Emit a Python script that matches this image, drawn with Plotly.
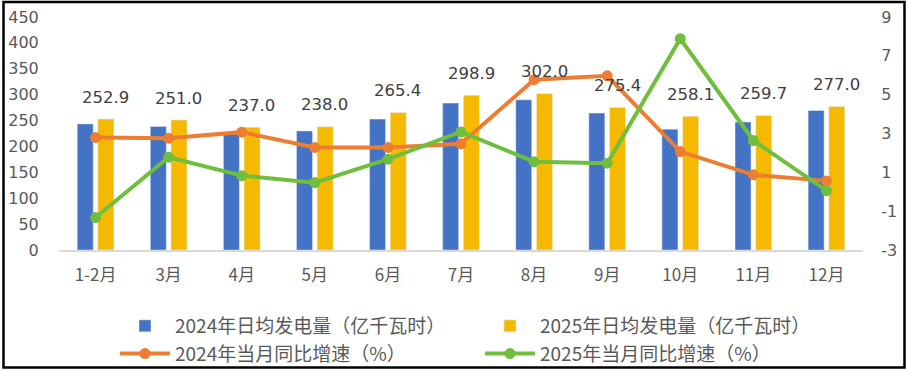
import plotly.graph_objects as go

months = ["1-2月", "3月", "4月", "5月", "6月", "7月", "8月", "9月", "10月", "11月", "12月"]
gen_2024 = [243.5, 238.5, 226.0, 230.0, 252.8, 283.7, 290.0, 264.4, 233.4, 247.0, 269.5]
gen_2025 = [252.9, 251.0, 237.0, 238.0, 265.4, 298.9, 302.0, 275.4, 258.1, 259.7, 277.0]
growth_2024 = [2.8, 2.76, 3.07, 2.28, 2.28, 2.47, 5.77, 5.97, 2.07, 0.87, 0.56]
growth_2025 = [-1.33, 1.78, 0.83, 0.47, 1.68, 3.08, 1.55, 1.47, 7.88, 2.64, 0.06]
left_ticks = list(range(0, 451, 50))
right_ticks = [-3, -1, 1, 3, 5, 7, 9]
right_tick_labels = ["-3", "-1", "1", "3", "5", "7", "9"]

names = ["2024年日均发电量（亿千瓦时）", "2025年日均发电量（亿千瓦时）",
         "2024年当月同比增速（%）", "2025年当月同比增速（%）"]

BLUE = "#4472C4"
YELLOW = "#F5BA00"
ORANGE = "#ED7D31"
GREEN = "#6FBE3E"

W, H = 908, 370
ML, MR, MT, MB = 59, 45, 17, 120
PW, PH = W - ML - MR, H - MT - MB

fig = go.Figure()
fig.add_trace(go.Bar(x=months, y=gen_2024, name=names[0], marker_color=BLUE, yaxis="y"))
fig.add_trace(go.Bar(x=months, y=gen_2025, name=names[1], marker_color=YELLOW, yaxis="y"))
fig.add_trace(go.Scatter(x=months, y=growth_2024, name=names[2], yaxis="y2", mode="lines+markers",
                         line=dict(color=ORANGE, width=4), marker=dict(size=11, color=ORANGE)))
fig.add_trace(go.Scatter(x=months, y=growth_2025, name=names[3], yaxis="y2", mode="lines+markers",
                         line=dict(color=GREEN, width=4), marker=dict(size=11, color=GREEN)))

num_font = dict(family="DejaVu Sans", size=16, color="#595959")
cjk = "Noto Sans CJK SC"

annotations = []
for m, v in zip(months, gen_2025):
    annotations.append(dict(x=m, y=v, xref="x", yref="y", text=f"{v:.1f}", showarrow=False,
                            xshift=10, yshift=22, font=dict(family="DejaVu Sans", size=16.5, color="#404040")))

def px_to_paper_x(px):
    return (px - ML) / PW

def px_to_paper_y(py):
    return (H - MB - py) / PH

fig.update_layout(
    width=W, height=H,
    margin=dict(l=ML, r=MR, t=MT, b=MB, pad=0, autoexpand=False),
    paper_bgcolor="white", plot_bgcolor="white",
    barmode="group", bargap=0.434, bargroupgap=0.227,
    showlegend=True,
    legend=dict(orientation="h", x=px_to_paper_x(115), xanchor="left",
                y=px_to_paper_y(307), yanchor="top",
                font=dict(family=cjk, size=19, color="#595959"),
                itemwidth=50, entrywidth=300, traceorder="normal",
                bgcolor="rgba(0,0,0,0)"),
    xaxis=dict(range=[-0.5, len(months) - 0.5], showgrid=False, showline=True,
               linecolor="#D9D9D9", linewidth=1.5,
               tickfont=dict(family=cjk, size=17, color="#595959"),
               ticks="outside", ticklen=9, tickcolor="rgba(0,0,0,0)"),
    yaxis=dict(range=[0, 450], tickvals=left_ticks, showgrid=False, zeroline=False, showline=False,
               tickfont=num_font, ticks="outside", ticklen=16, tickcolor="rgba(0,0,0,0)"),
    yaxis2=dict(range=[-3, 9], tickvals=right_ticks, ticktext=right_tick_labels, overlaying="y",
                side="right", showgrid=False, zeroline=False, showline=False, tickfont=num_font,
                ticks="outside", ticklen=14, tickcolor="rgba(0,0,0,0)"),
    annotations=annotations,
    shapes=[dict(type="rect", xref="paper", yref="paper",
                 x0=px_to_paper_x(3.5), x1=px_to_paper_x(904.5),
                 y0=px_to_paper_y(367.5), y1=px_to_paper_y(2),
                 line=dict(color="black", width=2.5), fillcolor="rgba(0,0,0,0)", layer="above")],
)

fig.write_html("out.html", post_script="document.body.style.margin='0';",
               config={"displayModeBar": False})
